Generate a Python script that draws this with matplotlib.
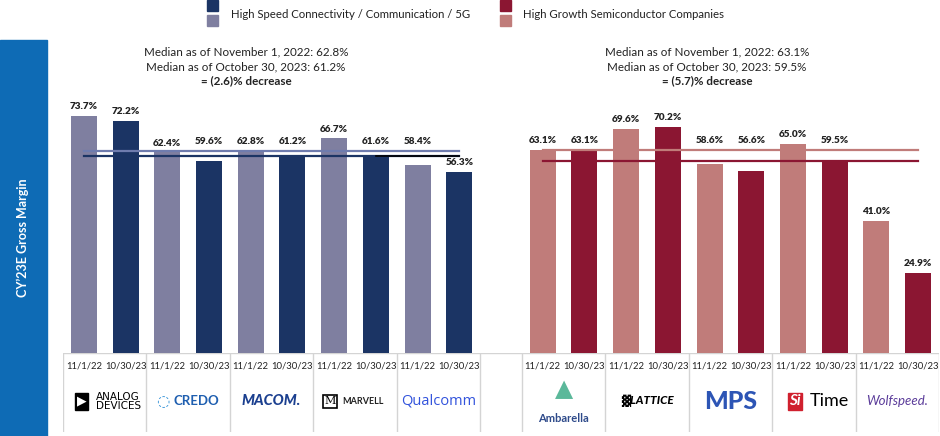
import numpy as np
import matplotlib.pyplot as plt
from matplotlib.patches import Rectangle

plt.rcParams['font.family'] = ['Lato', 'DejaVu Sans']

# data (CY'23E gross margin, %)
left_companies = ["Analog Devices", "Credo", "MACOM", "Marvell", "Qualcomm"]
left_2022 = [73.7, 62.4, 62.8, 66.7, 58.4]
left_2023 = [72.2, 59.6, 61.2, 61.6, 56.3]
right_companies = ["Ambarella", "Lattice", "MPS", "SiTime", "Wolfspeed"]
right_2022 = [63.1, 69.6, 58.6, 65.0, 41.0]
right_2023 = [63.1, 70.2, 56.6, 59.5, 24.9]
decrease = [2.6, 5.7]  # as printed on the slide
date_labels = ["11/1/22", "10/30/23"]
legend_labels = ["High Speed Connectivity / Communication / 5G",
                 "High Growth Semiconductor Companies"]

# colours
left_light, left_dark = "#7f7fa0", "#1b3464"
left_line_light = "#6f7cae"
right_light, right_dark = "#c07c7a", "#8b1632"
band_blue = "#0e6bb5"

W, H = 940, 436
fig = plt.figure(figsize=(W / 100, H / 100), dpi=100)

px_per_pct = 3.22
base_px, top_px = 353, 90
ax = fig.add_axes([63 / W, (H - base_px) / H, 876 / W, (base_px - top_px) / H])
ax.set_xlim(0, 21)
ax.set_ylim(0, (base_px - top_px) / px_per_pct)
ax.axis("off")

tab = fig.add_axes([63 / W, (H - 432) / H, 876 / W, (432 - base_px) / H])
tab.set_xlim(0, 21)
tab.set_ylim(0, 1)
tab.axis("off")


def draw_panel(start, v22, v23, light, dark, line_light, line_dark, extra_black=False):
    n = len(v22)
    x22 = start + np.arange(n) * 2 + 0.5
    x23 = x22 + 1
    ax.bar(x22, v22, width=0.62, color=light, zorder=2)
    ax.bar(x23, v23, width=0.62, color=dark, zorder=2)
    m22, m23 = np.median(v22), np.median(v23)
    x0, x1 = x22[0], x23[-1]
    ax.plot([x0, x1], [m22, m22], color=line_light, lw=1.6, zorder=3)
    ax.plot([x0, x1], [m23, m23], color=line_dark, lw=1.6, zorder=3)
    if extra_black:
        ax.plot([x23[-2], x1], [m23, m23], color="black", lw=1.2, zorder=4)
    hi, lo = max(m22, m23), min(m22, m23)
    for xs, vals in ((x22, v22), (x23, v23)):
        for x, v in zip(xs, vals):
            c = v + 2.8
            if x < x1 - 0.1 and c - 1.4 < hi + 0.5 and c + 1.4 > lo - 0.5:
                c = hi + 2.8
            ax.text(x, c, f"{v:.1f}%", ha="center", va="center",
                    fontsize=7.2, fontweight="heavy", color="#222222", zorder=5)
    # table cells
    for k in range(n + 1):
        tab.plot([start + 2 * k] * 2, [0, 1], color="#d4d4d4", lw=1)
    for x in x22:
        tab.text(x, 0.84, date_labels[0], ha="center", va="center", fontsize=6.8, color="#222222")
        tab.text(x + 1, 0.84, date_labels[1], ha="center", va="center", fontsize=6.8, color="#222222")
    return m22, m23


lm22, lm23 = draw_panel(0, left_2022, left_2023, left_light, left_dark,
                        left_line_light, left_dark, extra_black=True)
rm22, rm23 = draw_panel(11, right_2022, right_2023, right_light, right_dark,
                        right_light, right_dark)
tab.plot([0, 21], [1, 1], color="#d4d4d4", lw=1)

# logos, approximated with text
lc = [1 + 2 * k for k in range(5)]
rc = [12 + 2 * k for k in range(5)]
ly = 0.39
tab.text(lc[0] - 0.55, ly, "\u25B6", ha="center", va="center", fontsize=9, color="white",
         family="DejaVu Sans", bbox=dict(boxstyle="square,pad=0.15", fc="black", ec="black"))
tab.text(lc[0] - 0.2, ly, "ANALOG\nDEVICES", ha="left", va="center", fontsize=7.5,
         linespacing=0.9, color="black", family="Liberation Sans Narrow")
tab.text(lc[1] - 0.6, ly, "\u25CC", ha="center", va="center", fontsize=11,
         color="#2d8fd6", family="DejaVu Sans")
tab.text(lc[1] - 0.35, ly, "CREDO", ha="left", va="center", fontsize=9.5,
         fontweight="bold", color="#1f5fb0")
tab.text(lc[2], ly, "MACOM.", ha="center", va="center", fontsize=10.5,
         fontweight="black", style="italic", color="#1b3f8f")
tab.text(lc[3] - 0.6, ly, "M", ha="center", va="center", fontsize=8, color="black",
         family="DejaVu Serif",
         bbox=dict(boxstyle="square,pad=0.15", fc="white", ec="black", lw=1.2))
tab.text(lc[3] - 0.3, ly, "MARVELL", ha="left", va="center", fontsize=6.5,
         fontweight="bold", color="#222222")
tab.text(lc[4], ly, "Qualcomm", ha="center", va="center", fontsize=10.5,
         color="#3253dc", family="Open Sans")

tab.text(rc[0], ly + 0.15, "\u25B2", ha="center", va="center", fontsize=17,
         color="#5bb89a", family="DejaVu Sans")
tab.text(rc[0], ly - 0.22, "Ambarella", ha="center", va="center", fontsize=8,
         fontweight="bold", color="#2e4a8a")
tab.text(rc[1], ly, "\u2593LATTICE", ha="center", va="center", fontsize=8.5,
         fontweight="black", style="italic", color="black", family=["Lato", "DejaVu Sans"])
tab.text(rc[2], ly, "MPS", ha="center", va="center", fontsize=18,
         fontweight="black", color="#2d55b5")
tab.text(rc[3] - 0.45, ly, "Si", ha="center", va="center", fontsize=11, style="italic",
         fontweight="bold", color="white",
         bbox=dict(boxstyle="square,pad=0.1", fc="#d0202e", ec="#d0202e"))
tab.text(rc[3] - 0.1, ly, "Time", ha="left", va="center", fontsize=13, color="black")
tab.text(rc[4], ly, "Wolfspeed.", ha="center", va="center", fontsize=9.5,
         style="italic", color="#5b3c9a")

# median annotations
for cx, m22, m23, dec in ((246, lm22, lm23, decrease[0]), (707, rm22, rm23, decrease[1])):
    fig.text(cx / W, 1 - 52 / H, f"Median as of November 1, 2022: {m22:.1f}%", ha="center",
             va="center", fontsize=8.4, color="#222222")
    fig.text(cx / W, 1 - 66.5 / H, f"Median as of October 30, 2023: {m23:.1f}%", ha="center",
             va="center", fontsize=8.4, color="#222222")
    fig.text(cx / W, 1 - 80.5 / H, f"= ({dec:.1f})% decrease", ha="center",
             va="center", fontsize=8.4, fontweight="bold", color="#222222")

# legend
for sx, tx, light, dark, lab in ((207, 231, left_light, left_dark, legend_labels[0]),
                                 (500, 523, right_light, right_dark, legend_labels[1])):
    fig.patches.append(Rectangle((sx / W, 1 - 11 / H), 11 / W, 11 / H,
                                 transform=fig.transFigure, color=dark))
    fig.patches.append(Rectangle((sx / W, 1 - 26 / H), 11 / W, 11 / H,
                                 transform=fig.transFigure, color=light))
    fig.text(tx / W, 1 - 14 / H, lab, ha="left", va="center", fontsize=8.2, color="#222222")

# left band with axis title
fig.patches.append(Rectangle((0, 0), 47 / W, 1 - 40 / H, transform=fig.transFigure,
                             color=band_blue))
fig.text(23 / W, 1 - 238 / H, "CY\u201923E Gross Margin", rotation=90, ha="center",
         va="center", fontsize=9, fontweight="bold", color="white")

fig.savefig("out.png", dpi=100)
